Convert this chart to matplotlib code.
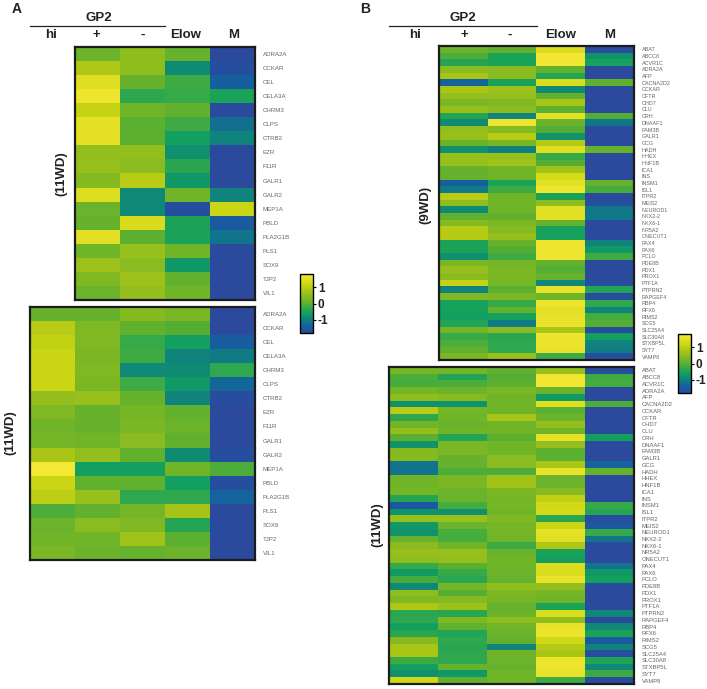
import numpy as np
import matplotlib
matplotlib.use("Agg")
import matplotlib.pyplot as plt
from matplotlib.colors import LinearSegmentedColormap

# gene lists
genes_a = ["ADRA2A", "CCKAR", "CEL", "CELA3A", "CHRM3", "CLPS", "CTRB2", "EZR", "F11R",
           "GALR1", "GALR2", "MEP1A", "PBLD", "PLA2G1B", "PLS1", "SOX9", "TJP2", "VIL1"]
genes_b = ["ABAT", "ABCC8", "ACVR1C", "ADRA2A", "AFP", "CACNA2D2", "CCKAR", "CFTR", "CHD7",
           "CLU", "CRH", "DNAAF1", "FAM3B", "GALR1", "GCG", "HADH", "HHEX", "HNF1B", "ICA1",
           "INS", "INSM1", "ISL1", "ITPR2", "MEIS2", "NEUROD1", "NKX2-2", "NKX6-1", "NR5A2",
           "ONECUT1", "PAX4", "PAX6", "PCLO", "PDE8B", "PDX1", "PROX1", "PTF1A", "PTPRN2",
           "RAPGEF4", "RBP4", "RFX6", "RIMS2", "SCG5", "SLC25A4", "SLC30A8", "STXBP5L",
           "SYT7", "VAMP8"]

# values: columns +, -, Elow, M
a_top = [[0.15, 0.5, 0.1, -1.8], [0.85, 0.5, -0.85, -1.7], [1.45, 0.1, -0.2, -1.4],
         [1.7, -0.3, -0.25, -0.5], [1.1, 0.2, 0.05, -1.8], [1.55, 0.0, -0.2, -1.2],
         [1.55, 0.0, -0.6, -0.95], [0.55, 0.55, -0.8, -1.8], [0.6, 0.45, -0.35, -1.8],
         [0.4, 0.95, -0.7, -1.8], [1.4, -0.9, 0.2, -0.95], [0.15, -0.9, -1.7, 1.15],
         [0.1, 1.35, -0.5, -1.5], [1.5, 0.0, -0.5, -1.15], [0.2, 0.6, 0.2, -1.8],
         [0.65, 0.45, -0.7, -1.8], [0.35, 0.65, 0.05, -1.8], [0.15, 0.55, 0.2, -1.8]]

# columns hi, +, -, Elow, M
a_bottom = [[0.1, 0.1, 0.4, 0.3, -1.8], [0.95, 0.35, 0.05, -0.05, -1.8],
            [1.05, 0.35, -0.25, -0.6, -1.45], [1.15, 0.3, -0.2, -0.95, -1.05],
            [1.15, 0.35, -0.9, -0.85, -0.3], [1.15, 0.3, -0.2, -0.7, -1.3],
            [0.55, 0.6, 0.1, -0.95, -1.75], [0.35, 0.1, 0.25, 0.05, -1.8],
            [0.2, 0.1, 0.3, 0.15, -1.8], [0.25, 0.2, 0.45, 0.05, -1.8],
            [0.8, 0.55, 0.05, -0.85, -1.7], [1.8, -0.6, -0.6, 0.2, -0.1],
            [1.15, 0.05, 0.05, -0.6, -1.7], [1.0, 0.6, -0.3, -0.3, -1.35],
            [-0.1, 0.05, 0.25, 0.75, -1.8], [0.15, 0.45, 0.35, -0.4, -1.8],
            [0.2, 0.2, 0.7, 0.0, -1.8], [0.3, 0.15, 0.1, 0.15, -1.8]]

b_top = [[0.15, 0.05, 1.4, -1.75], [-0.1, -0.5, 1.75, -0.75], [-0.4, -0.5, 1.75, -0.55],
         [0.45, 0.45, 0.05, -1.8], [0.8, 0.45, -0.45, -1.8], [-1.35, -0.5, 1.4, 0.05],
         [0.8, 0.65, -0.85, -1.8], [0.55, 0.55, 0.05, -1.8], [0.3, 0.35, 0.8, -1.8],
         [0.6, 0.45, 0.0, -1.8], [-0.4, -0.95, 1.55, -0.05], [-0.85, 1.65, 0.15, -1.1],
         [0.55, 0.4, -0.05, -1.8], [0.6, 0.95, -0.75, -1.8], [0.15, 0.3, 0.9, -1.8],
         [-0.8, -1.0, 1.45, 0.1], [0.6, 0.6, -0.25, -1.8], [0.6, 0.7, -0.05, -1.8],
         [0.1, 0.2, 0.7, -1.8], [0.1, 0.2, 1.3, -1.8], [-1.4, -0.5, 1.5, 0.1],
         [-1.05, -0.2, 1.7, -0.15], [0.95, 0.2, -0.5, -1.8], [0.5, 0.2, 0.5, -1.7],
         [-0.85, 0.2, 1.5, -1.1], [0.05, 0.05, 1.5, -1.1], [0.4, 0.3, 0.1, -1.8],
         [0.95, 0.4, -0.55, -1.8], [0.9, 0.55, -0.55, -1.8], [-0.5, 0.1, 1.65, -0.95],
         [-0.5, -0.05, 1.7, -0.7], [-0.8, -0.2, 1.7, -0.2], [0.3, 0.25, 0.05, -1.8],
         [0.6, 0.3, -0.05, -1.8], [0.45, 0.3, 0.1, -1.8], [1.1, 0.25, -0.9, -1.75],
         [-0.95, 0.0, 1.6, -0.45], [0.35, 0.3, 0.2, -1.75], [-0.55, -0.25, 1.65, -0.3],
         [-0.55, 0.05, 1.5, -0.95], [-0.6, -0.55, 1.6, -0.15], [-0.45, -1.05, 1.6, -0.05],
         [0.25, 0.45, 0.8, -1.75], [-0.25, -0.35, 1.65, -0.6], [-0.1, -0.3, 1.65, -0.95],
         [0.05, -0.3, 1.6, -1.05], [0.3, 0.6, -0.2, -1.7]]

b_bottom = [[0.25, 0.25, 0.05, 0.6, -1.75], [-0.1, -0.45, -0.05, 1.75, -0.2],
            [-0.15, -0.1, 0.0, 1.75, -0.15], [0.25, 0.15, 0.3, 0.15, -1.8],
            [0.5, 0.4, 0.2, -0.65, -1.8], [-0.8, -0.75, 0.2, 1.45, -0.1],
            [0.95, 0.25, 0.2, 0.0, -1.8], [-0.3, 0.2, 0.75, 0.15, -1.8],
            [0.2, 0.15, 0.2, 0.55, -1.8], [0.55, 0.2, 0.2, 0.2, -1.8],
            [0.0, -0.45, 0.0, 1.55, -0.6], [-0.75, 0.3, 0.2, 0.55, -1.8],
            [0.4, 0.3, 0.2, 0.0, -1.8], [0.4, 0.1, 0.45, 0.0, -1.8],
            [-1.15, 0.1, 0.45, 0.8, -1.35], [-1.15, -0.1, -0.1, 1.6, 0.1],
            [0.2, 0.3, 0.7, 0.15, -1.8], [0.2, 0.3, 0.7, 0.15, -1.8],
            [0.25, 0.15, 0.3, 0.4, -1.8], [-0.4, 0.15, 0.25, 1.05, -1.8],
            [-1.55, -0.15, 0.25, 1.25, -0.25], [-0.75, -0.8, 0.2, 1.3, -0.4],
            [0.6, 0.6, 0.35, -0.35, -1.75], [-0.7, 0.15, 0.25, 1.15, -1.55],
            [-0.75, -0.15, 0.25, 1.55, -0.25], [0.1, -0.15, 0.2, 1.5, -1.15],
            [0.45, 0.2, -0.2, 0.85, -1.8], [0.6, 0.6, 0.1, -0.5, -1.8],
            [0.5, 0.55, 0.2, -0.6, -1.8], [-0.25, 0.0, 0.2, 1.4, -1.15],
            [-0.65, -0.25, 0.15, 1.35, -0.7], [-0.15, -0.35, 0.1, 1.6, -0.6],
            [-0.9, 0.25, 0.5, 0.55, -1.75], [0.5, -0.05, 0.35, 0.25, -1.8],
            [0.35, 0.4, 0.25, 0.2, -1.8], [0.85, 0.65, 0.1, -0.5, -1.8],
            [-0.35, -0.35, 0.15, 1.4, -0.9], [-0.3, 0.35, 0.5, 0.5, -1.8],
            [-0.6, 0.05, 0.2, 1.6, -0.9], [-0.35, -0.45, 0.15, 1.65, -0.5],
            [0.4, -0.3, 0.05, 1.2, -1.5], [0.8, -0.35, -0.95, 0.9, -0.95],
            [0.8, -0.3, 0.2, 0.8, -1.75], [-0.2, -0.3, 0.15, 1.65, -0.45],
            [-0.6, 0.1, 0.1, 1.65, -0.9], [-0.8, -0.7, 0.2, 1.6, -0.2],
            [1.2, 0.05, 0.2, -0.2, -1.75]]

W, H = 707, 689
vmin, vmax = -1.8, 1.8

stops = [(-1.8, "#2b4a9e"), (-1.4, "#1560a0"), (-1.0, "#0f8080"), (-0.6, "#12a05f"),
         (-0.3, "#2fa84e"), (0.0, "#5cb030"), (0.4, "#85ba22"), (0.8, "#aac616"),
         (1.2, "#cfd814"), (1.8, "#f5e835")]
cmap = LinearSegmentedColormap.from_list(
    "gp2", [((v - vmin) / (vmax - vmin), c) for v, c in stops])

fig = plt.figure(figsize=(W / 100, H / 100), dpi=100)
plt.rcParams["font.family"] = ["Liberation Sans", "DejaVu Sans"]


def px_axes(x0, y0, x1, y1):
    return fig.add_axes([x0 / W, 1 - y1 / H, (x1 - x0) / W, (y1 - y0) / H])


def heatmap(box, values, genes, fontsize):
    ax = px_axes(*box)
    im = ax.imshow(np.array(values), cmap=cmap, vmin=vmin, vmax=vmax,
                   aspect="auto", interpolation="nearest")
    ax.set_xticks([])
    ax.yaxis.tick_right()
    ax.set_yticks(range(len(genes)))
    ax.set_yticklabels(genes, fontsize=fontsize, color="#666666")
    ax.tick_params(axis="y", length=0, pad=5.5)
    for s in ax.spines.values():
        s.set_linewidth(1.6)
        s.set_color("#1c1c1c")
    return im


def colorbar(box, im):
    cax = px_axes(*box)
    cb = fig.colorbar(im, cax=cax)
    cb.set_ticks([-1, 0, 1])
    cb.set_ticklabels(["-1", "0", "1"])
    cb.ax.tick_params(length=2, width=0.8, pad=1.5, labelsize=8.5)
    for t in cb.ax.get_yticklabels():
        t.set_fontweight("bold")
        t.set_color("#222222")
    cb.outline.set_linewidth(1.0)


def label(x, y, s, size=9.5, rotation=0, color="#222222"):
    fig.text(x / W, 1 - y / H, s, fontsize=size, fontweight="bold", color=color,
             ha="center", va="center", rotation=rotation)


im = heatmap((75, 47, 255, 300), a_top, genes_a, 4.4)
heatmap((30, 307, 255, 560), a_bottom, genes_a, 4.4)
colorbar((300, 274, 313, 333), im)

im = heatmap((439, 46, 634, 360), b_top, genes_b, 3.9)
heatmap((389, 367, 634, 684), b_bottom, genes_b, 4.2)
colorbar((678, 334, 691, 393), im)

# header of each panel
label(17, 9, "A", 10)
label(99, 18, "GP2")
fig.add_artist(plt.Line2D([30 / W, 165 / W], [1 - 25.7 / H] * 2, color="#222222", lw=0.9))
for x, s in zip([51, 96, 143, 186, 234], ["hi", "+", "-", "Elow", "M"]):
    label(x, 35, s)

label(365, 9, "B", 10)
label(463, 18, "GP2")
fig.add_artist(plt.Line2D([389 / W, 537 / W], [1 - 26 / H] * 2, color="#222222", lw=0.9))
for x, s in zip([415, 464, 510, 561, 610], ["hi", "+", "-", "Elow", "M"]):
    label(x, 35, s)

label(61, 174, "(11WD)", rotation=90)
label(10, 433, "(11WD)", rotation=90)
label(425, 205, "(9WD)", rotation=90)
label(377, 525, "(11WD)", rotation=90)

fig.savefig("out.png", dpi=100)
